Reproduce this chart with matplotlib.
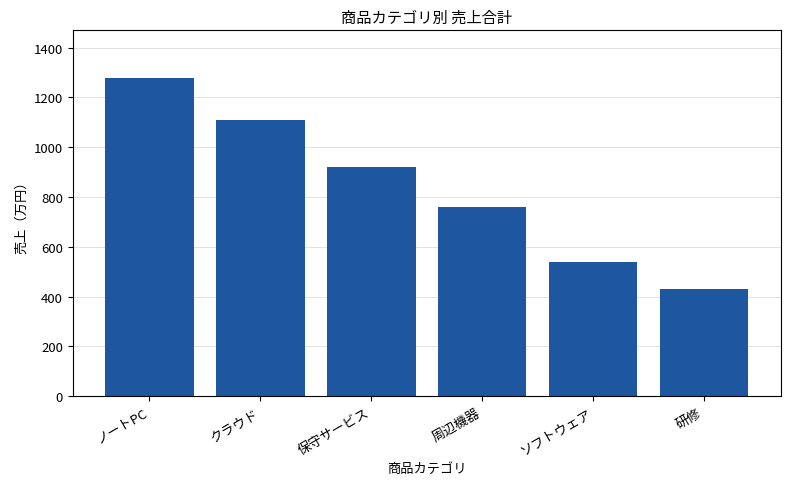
import matplotlib
matplotlib.use("Agg")
import matplotlib.pyplot as plt

plt.rcParams['font.family'] = ['Noto Sans CJK JP', 'DejaVu Sans']

categories = ["ノートPC", "クラウド", "保守サービス", "周辺機器", "ソフトウェア", "研修"]
sales = [1280, 1110, 920, 760, 540, 430]

fig, ax = plt.subplots(figsize=(7.9, 4.89), dpi=100)
fig.subplots_adjust(left=0.092, right=0.988, top=0.937, bottom=0.188)
ax.bar(categories, sales, color="#1f56a0", width=0.8, zorder=2)
ax.set_ylim(0, max(sales) * 1.15)
ax.grid(axis="y", color="#dddddd", linewidth=0.6, zorder=0)
ax.set_title("商品カテゴリ別 売上合計", fontsize=11)
ax.set_xlabel("商品カテゴリ", fontsize=9.5)
ax.set_ylabel("売上（万円）", fontsize=9.5)
ax.tick_params(labelsize=9.5)
plt.setp(ax.get_xticklabels(), rotation=30, ha="right")
fig.savefig("out.png", dpi=100)
